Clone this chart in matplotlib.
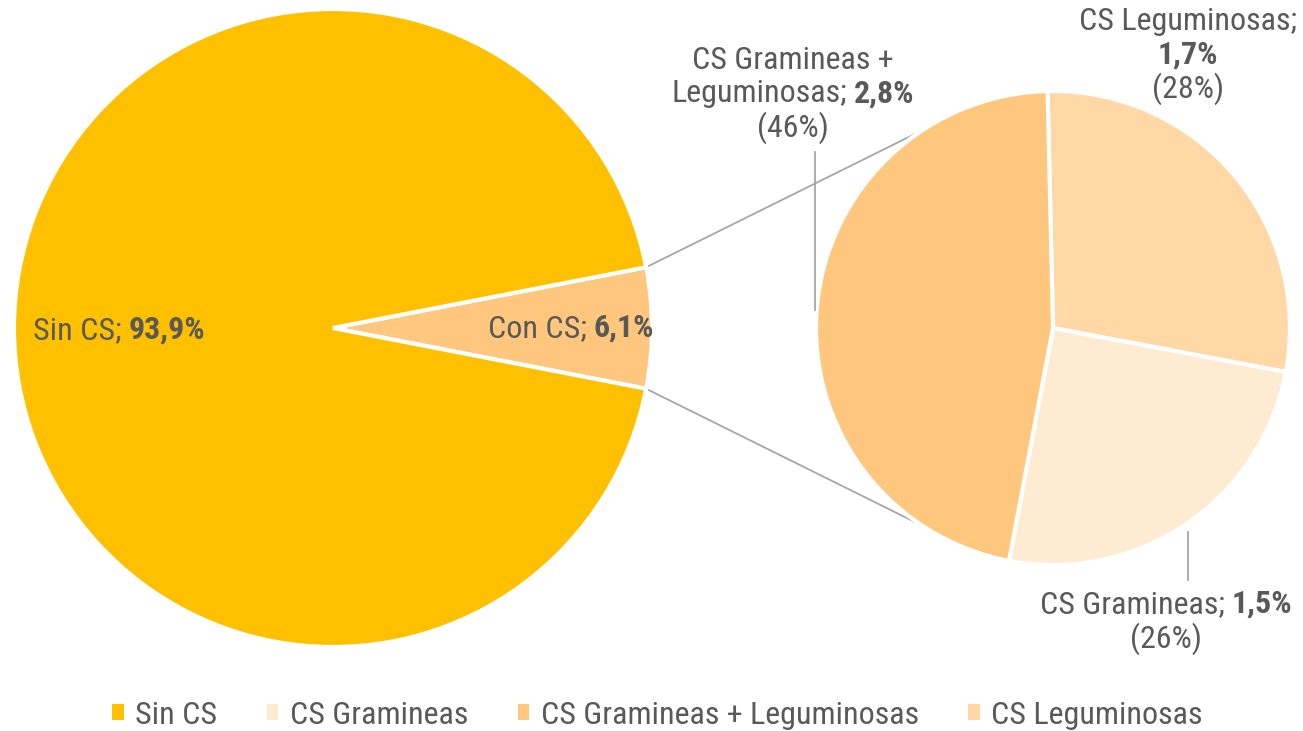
import matplotlib
matplotlib.use('Agg')
import matplotlib.pyplot as plt
import numpy as np
from matplotlib.patches import Patch
from matplotlib.offsetbox import TextArea, HPacker, VPacker, AnnotationBbox

# ---- data ----
main_labels = ['Con CS', 'Sin CS']
main_values = [6.1, 93.9]
sub_labels = ['CS Leguminosas', 'CS Gramineas', 'CS Gramineas + Leguminosas']
sub_values = [1.7, 1.5, 2.8]
sub_shares = [28, 26, 46]
legend_labels = ['Sin CS', 'CS Gramineas', 'CS Gramineas + Leguminosas', 'CS Leguminosas']

colors = {
    'Sin CS': '#FFC000',
    'Con CS': '#FFC77D',
    'CS Gramineas': '#FFEBD2',
    'CS Gramineas + Leguminosas': '#FFC77D',
    'CS Leguminosas': '#FFD8A6',
}

FONT = ['Roboto Condensed', 'Noto Sans', 'Roboto', 'DejaVu Sans']
plt.rcParams['font.family'] = FONT
plt.rcParams['font.stretch'] = 'condensed'
TXT = '#595959'
FS = 23

def fmt(v):
    return f"{v:.1f}".replace('.', ',') + '%'

fig = plt.figure(figsize=(13.03, 7.31), dpi=100)
ax = fig.add_axes([0, 0, 1, 1])

H = 731
main_center = (333, H - 328)
main_r = 319
sub_center = (1053, H - 328)
sub_r = 237

span = main_values[0] / sum(main_values) * 360
ax.pie(main_values, colors=[colors[l] for l in main_labels], startangle=-span / 2,
       counterclock=True, center=main_center, radius=main_r, frame=True,
       wedgeprops=dict(edgecolor='white', linewidth=3))

ax.pie(sub_values, colors=[colors[l] for l in sub_labels], startangle=91.3,
       counterclock=False, center=sub_center, radius=sub_r, frame=True,
       wedgeprops=dict(edgecolor='white', linewidth=3))

for sgn in (1, -1):
    a1 = np.deg2rad(sgn * span / 2)
    a2 = np.deg2rad(sgn * 123.5)
    p1 = (main_center[0] + main_r * np.cos(a1), main_center[1] + main_r * np.sin(a1))
    p2 = (sub_center[0] + sub_r * np.cos(a2), sub_center[1] + sub_r * np.sin(a2))
    ax.plot([p1[0], p2[0]], [p1[1], p2[1]], color='#A6A6A6', lw=1.3, zorder=0.5)

ax.plot([815, 815], [H - 152, H - 310], color='#A6A6A6', lw=1.3)
ax.plot([1188, 1188], [H - 532, H - 580], color='#A6A6A6', lw=1.3)

ax.set_xlim(0, 1303)
ax.set_ylim(0, H)
ax.axis('off')

def ta(s, bold=False):
    return TextArea(s, textprops=dict(color=TXT, fontsize=FS,
                                      fontweight='bold' if bold else 'normal',
                                      family=FONT, fontstretch='condensed'))

def line(parts):
    kids = [ta(s, b) for s, b in parts]
    if len(kids) == 1:
        return kids[0]
    return HPacker(children=kids, sep=5, pad=0, align='baseline')

def block(lines, xy, align='center', box_alignment=(0.5, 0.5)):
    v = VPacker(children=[line(l) for l in lines], sep=2.5, pad=0, align=align)
    ab = AnnotationBbox(v, xy, frameon=False, box_alignment=box_alignment,
                        xycoords='data', pad=0)
    ax.add_artist(ab)

block([[('Sin CS;', False), (fmt(main_values[1]), True)]], (33, H - 330),
      align='left', box_alignment=(0, 0.5))
block([[('Con CS;', False), (fmt(main_values[0]), True)]], (571, H - 328))

block([[('CS Gramineas +', False)],
       [('Leguminosas;', False), (fmt(sub_values[2]), True)],
       [(f'({sub_shares[2]}%)', False)]], (793, H - 95))
block([[('CS Leguminosas;', False)],
       [(fmt(sub_values[0]), True)],
       [(f'({sub_shares[0]}%)', False)]], (1188, H - 56))
block([[('CS Gramineas;', False), (fmt(sub_values[1]), True)],
       [(f'({sub_shares[1]}%)', False)]], (1166, H - 622))

handles = [Patch(facecolor=colors[l], edgecolor='none') for l in legend_labels]
fig.legend(handles, legend_labels, loc='center', bbox_to_anchor=(0.5 + 6 / 1303, 16 / H),
           ncol=4, frameon=False, handlelength=0.36, handleheight=0.36,
           handletextpad=0.36, columnspacing=1.55, fontsize=FS, labelcolor=TXT,
           prop=dict(family=FONT, stretch='condensed', size=FS))

fig.savefig('out.png', dpi=100)
